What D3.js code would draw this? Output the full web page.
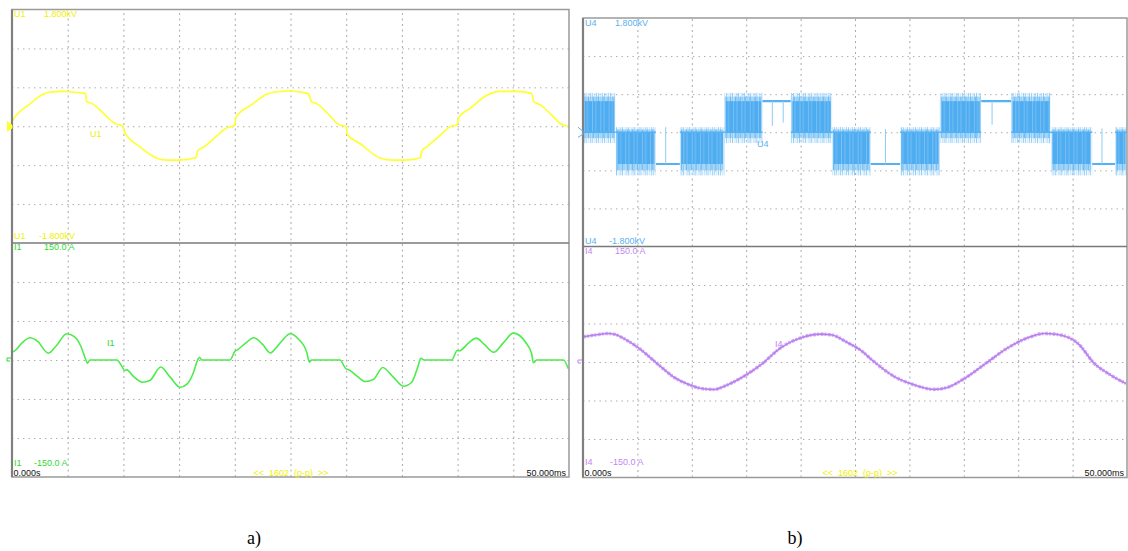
<!DOCTYPE html>
<html><head><meta charset="utf-8">
<script src="https://cdn.jsdelivr.net/npm/d3@7"></script>
<style>
body{margin:0;background:#fff}
svg{display:block}
text{font-family:"Liberation Sans",Arial,sans-serif}
</style>
</head><body>
<svg id="c" width="1128" height="551"></svg>
<script>
// ---------------- DATA ----------------
const timeTicks = [0,5,10,15,20,25,30,35,40,45,50];           // ms
const voltTicks = [-1800,-1200,-600,0,600,1200,1800];          // V
const currTicks = [-150,-100,-50,0,50,100,150];                // A

// a) U1 voltage (ms, V)
const u1Time = [0,0.3,1.5,2.8,3.5,4.5,5.0,6.6,6.7,7.2,8.2,9.2,9.96,10.1,11.5,13.0,13.9,15.0,16.5,16.7,17.2,18.2,19.2,20.0,20.1,21.5,22.86,23.5,24.3,24.95,26.6,26.9,27.35,28.4,29.44,29.98,30.1,31.24,33.03,34.23,35.13,36.63,36.83,37.23,38.3,39.47,39.92,40.13,41.11,42.61,43.81,45.31,46.65,46.86,47.4,48.4,49.35,49.94];
const u1Volt = [77,154,330,492,528,538,534,503,380,349,200,46,0,-92,-318,-492,-523,-523,-485,-369,-323,-180,-31,15,138,330,492,525,538,543,503,374,349,185,15,0,-128,-266,-488,-523,-523,-488,-369,-318,-160,5,15,143,272,477,538,538,503,374,334,180,26,0];

// a) I1 current (ms, A)
const i1Time = [0,0.27,0.9,1.62,2.3,3.26,4.0,4.9,5.6,6.2,6.65,6.76,7.0,9.4,9.9,10.1,10.3,10.9,11.7,12.4,13.35,14.2,15.1,15.7,16.3,16.65,16.83,17.03,19.57,20.02,20.23,21.0,21.7,22.5,23.2,23.46,24.2,24.96,25.7,26.46,26.69,26.9,29.44,29.98,30.19,31.0,31.7,32.44,33.28,34.23,35.13,35.88,36.47,36.69,36.99,39.47,39.97,40.15,41.0,41.68,42.4,43.23,44.1,45.0,46.1,46.65,46.8,47.1,49.5,49.94];
const i1Amp = [10,12,22,28.5,24,8.7,18.6,33.6,30,17,-0.6,-4,0,0,-9,-13.5,-12.6,-21,-28.5,-26,-9,-22,-35,-31,-15.6,-0.6,3.6,0,0,11.3,13,22,28.5,20,9,11.8,24,33.6,27,10,-2.8,0,0,-11.3,-12.2,-21,-27.6,-25,-9.6,-22,-33.6,-28.5,-7,2.3,0,0,12.2,11.8,22,28,20,10,22,34.4,22.8,8,-3.6,0,0,-11.3];

// b) U4 switched voltage: blocks of PWM switching or flat level (ms, V)
const u4Start = [0,3.0,6.7,8.9,13.0,16.5,19.1,22.9,26.45,29.15,32.8,36.6,39.35,43.0,46.8,48.9];
const u4End   = [3.0,6.7,8.9,13.0,16.5,19.1,22.9,26.45,29.15,32.8,36.6,39.35,43.0,46.8,48.9,50];
const u4Level = [490,-500,-500,-500,490,490,490,-500,-500,-500,490,490,490,-500,-500,-500];
const u4Mode  = ['pwm','pwm','flat','pwm','pwm','flat','pwm','pwm','flat','pwm','pwm','flat','pwm','pwm','flat','pwm'];
const u4SpikeTop    = [620,80,-500,80,620,490,620,80,-500,80,620,490,620,80,-500,80];
const u4SpikeBottom = [-170,-680,-500,-680,-170,490,-170,-680,-500,-680,-170,490,-170,-680,-500,-680];
// isolated spikes in flat parts (ms, V tip)
const u4LoneTime = [7.6,17.4,18.4,27.8,37.6,47.7];
const u4LoneTip  = [80,100,150,50,120,60];

// b) I4 current (ms, A)
const i4Time = [0,1.1,2.3,2.9,3.85,5.07,6.9,8.44,9.66,10.9,12.1,13.0,14.56,16.4,18.2,20.1,21.9,22.8,24.3,25.6,26.6,28.5,30.5,32.3,33.5,35,37,39,41,42.4,43.5,45.5,47,48.5,49.9];
const i4Amp  = [32.7,35,37,36,29.7,18.7,-3,-20.5,-29,-34.5,-35.7,-31.4,-20.5,-3,18.7,31.8,36.2,35.3,25.3,14.4,2.2,-18,-30,-35.5,-33,-22,-2,18,32,37,36,24,-2,-17,-28];

// ---------------- DRAW ----------------
const svg = d3.select('#c');
const defs = svg.append('defs');
function pattern(id, w, bars, bg) {
  const p = defs.append('pattern').attr('id',id).attr('patternUnits','userSpaceOnUse').attr('width',w).attr('height',10);
  if (bg) p.append('rect').attr('width',w).attr('height',10).attr('fill',bg);
  bars.forEach(b=>p.append('rect').attr('x',b[0]).attr('width',b[1]).attr('height',10).attr('fill',b[2]));
}
pattern('spk', 6.1, [[0,1,'#8ccaf7'],[2.4,0.8,'#b3dcfa'],[4.2,1,'#9dd1f8']]);
pattern('mid', 4.9, [[0,1.4,'#6cbcf4'],[2.1,1,'#8dcaf6'],[3.6,0.9,'#79c1f5']]);
pattern('den', 8.3, [[3.0,0.7,'#8ac8f6'],[6.2,0.5,'#9ed2f8']], '#4eacf1');

const panels = [
  {x0:12, x1:569, y0:9.5, ym:243, y1:477, top:{name:'U1', col:'#f0f000'}, bot:{name:'I1', col:'#2fd82f'},
   topLbl:[90,137], botLbl:[107,346], topTxtX:44, topNegX:39, botTxtX:44, botNegX:34, pp:291, tb:17, tnb:239, bb:249.5, bnb:465.5, zb:475.5},
  {x0:583, x1:1127, y0:18, ym:246.5, y1:477.5, top:{name:'U4', col:'#5ab0f0'}, bot:{name:'I4', col:'#c186f2'},
   topLbl:[757,147], botLbl:[775,347], topTxtX:615, topNegX:609, botTxtX:615, botNegX:610, pp:860, tb:26, tnb:244, bb:253.5, bnb:465, zb:476}
];

panels.forEach((P, pi) => {
  const g = svg.append('g');
  const x = d3.scaleLinear().domain([0,50]).range([P.x0, P.x1]);
  const yT = d3.scaleLinear().domain([-1800,1800]).range([P.ym, P.y0]);
  const yB = d3.scaleLinear().domain([-150,150]).range([P.y1, P.ym]);
  const W = P.x1 - P.x0;
  // vertical grid
  g.append('g').attr('transform',`translate(0,${P.y1})`)
    .call(d3.axisBottom(x).tickValues(timeTicks.slice(1,-1)).tickSize(-(P.y1-P.y0)).tickFormat(''))
    .call(s=>{s.select('.domain').remove(); s.selectAll('line').attr('stroke','#a9a9a9').attr('stroke-dasharray','2,3.5');});
  // horizontal grids
  g.append('g').attr('transform',`translate(${P.x0},0)`)
    .call(d3.axisLeft(yT).tickValues(voltTicks.slice(1,-1)).tickSize(-W).tickFormat(''))
    .call(s=>{s.select('.domain').remove(); s.selectAll('line').attr('stroke','#a9a9a9').attr('stroke-dasharray','1.4,4.1');});
  g.append('g').attr('transform',`translate(${P.x0},0)`)
    .call(d3.axisLeft(yB).tickValues(currTicks.slice(1,-1)).tickSize(-W).tickFormat(''))
    .call(s=>{s.select('.domain').remove(); s.selectAll('line').attr('stroke','#a9a9a9').attr('stroke-dasharray','1.4,4.1');});

  const clipId = 'clip'+pi;
  defs.append('clipPath').attr('id',clipId).append('rect').attr('x',P.x0).attr('y',P.y0).attr('width',W).attr('height',P.y1-P.y0);
  const tr = g.append('g').attr('clip-path',`url(#${clipId})`);

  if (pi === 0) {
    const l1 = d3.line().x(d=>x(d[0])).y(d=>yT(d[1])).curve(d3.curveMonotoneX);
    tr.append('path').attr('d', l1(d3.zip(u1Time,u1Volt))).attr('fill','none').attr('stroke','#ffff2a').attr('stroke-width',1.6);
    const l2 = d3.line().x(d=>x(d[0])).y(d=>yB(d[1])).curve(d3.curveMonotoneX);
    tr.append('path').attr('d', l2(d3.zip(i1Time,i1Amp))).attr('fill','none').attr('stroke','#4cec4c').attr('stroke-width',1.6);
  } else {
    // U4
    u4Start.forEach((s,i)=>{
      const e = u4End[i];
      if (u4Mode[i]==='pwm') {
        const top = u4SpikeTop[i], bot = u4SpikeBottom[i];
        tr.append('rect').attr('x',x(s)).attr('width',x(e)-x(s))
          .attr('y',yT(top)).attr('height',yT(bot)-yT(top)).attr('fill','url(#spk)');
        const mt = top - (top - Math.max(u4Level[i],0))*0.45, mb = bot + (Math.min(u4Level[i],0) - bot)*0.45;
        tr.append('rect').attr('x',x(s)+0.8).attr('width',x(e)-x(s)-1.6)
          .attr('y',yT(mt)).attr('height',yT(mb)-yT(mt)).attr('fill','url(#mid)');
        const a = Math.max(u4Level[i],0), b = Math.min(u4Level[i],0);
        tr.append('rect').attr('x',x(s)+1.5).attr('width',x(e)-x(s)-3)
          .attr('y',yT(a)).attr('height',yT(b)-yT(a)).attr('fill','url(#den)');
        tr.append('line').attr('x1',x(s)).attr('x2',x(e)).attr('y1',yT(0)).attr('y2',yT(0)).attr('stroke','#55b1f2').attr('stroke-width',1.6);
      } else {
        tr.append('line').attr('x1',x(s)).attr('x2',x(e)).attr('y1',yT(u4Level[i])).attr('y2',yT(u4Level[i])).attr('stroke','#55b1f2').attr('stroke-width',2.2);
      }
    });
    u4LoneTime.forEach((t,i)=>{
      const bi = u4Start.findIndex((s,k)=> t>=s && t<u4End[k]);
      tr.append('line').attr('x1',x(t)).attr('x2',x(t)).attr('y1',yT(u4Level[bi])).attr('y2',yT(u4LoneTip[i])).attr('stroke','#8ecbf6').attr('stroke-width',1);
    });
    // I4
    const l4 = d3.line().x(d=>x(d[0])).y(d=>yB(d[1])).curve(d3.curveMonotoneX);
    const dd = l4(d3.zip(i4Time,i4Amp));
    tr.append('path').attr('d',dd).attr('fill','none').attr('stroke','#d6b3f7').attr('stroke-width',3.6).attr('stroke-dasharray','3,1,2,1.5');
    tr.append('path').attr('d',dd).attr('fill','none').attr('stroke','#b67fec').attr('stroke-width',1.6);
  }

  // frame
  g.append('rect').attr('x',P.x0).attr('y',P.y0).attr('width',W).attr('height',P.y1-P.y0).attr('fill','none').attr('stroke','#9a9a9a').attr('stroke-width',1.5);
  g.append('line').attr('x1',P.x0).attr('x2',P.x0).attr('y1',P.y0).attr('y2',P.y1).attr('stroke','#808080').attr('stroke-width',2.2);
  g.append('line').attr('x1',P.x0).attr('x2',P.x1).attr('y1',P.ym).attr('y2',P.ym).attr('stroke','#7a7a7a').attr('stroke-width',1.6);

  // texts
  const fs = 9;
  const txt = (xx,yy,s,c,anchor)=> g.append('text').attr('x',xx).attr('y',yy).attr('font-size',fs).attr('fill',c).attr('text-anchor',anchor||'start').style('white-space','pre').text(s);
  const tc = P.top.col, bc = P.bot.col;
  txt(P.x0+2, P.tb, P.top.name, tc); txt(P.topTxtX, P.tb, '1.800kV', tc);
  txt(P.x0+2, P.tnb, P.top.name, tc); txt(P.topNegX, P.tnb, '-1.800kV', tc);
  txt(P.x0+2, P.bb, P.bot.name, bc); txt(P.botTxtX, P.bb, '150.0 A', bc);
  txt(P.x0+2, P.bnb, P.bot.name, bc); txt(P.botNegX, P.bnb, '-150.0 A', bc);
  txt(P.x0+1.5, P.zb, '0.000s', '#111');
  txt(P.x1-3, P.zb, '50.000ms', '#111', 'end');
  txt(P.pp, P.zb, '<<  1602  (p-p)  >>', '#f0f000', 'middle');
  txt(P.topLbl[0], P.topLbl[1], P.top.name, tc);
  txt(P.botLbl[0], P.botLbl[1], P.bot.name, bc);

  // ground markers
  const gx = P.x0 - 5;
  g.append('path').attr('d',`M${gx},${yT(0)-5} L${gx+5},${yT(0)-1} L${gx+5},${yT(0)+2} L${gx},${yT(0)+5}`)
    .attr('fill', pi===0 ? '#ffff2a' : 'none').attr('stroke', pi===0 ? '#ffff2a' : '#5ab0f0').attr('stroke-width',1);
  g.append('path').attr('d',`M${gx+4},${yB(0)-2} L${gx},${yB(0)-2} L${gx},${yB(0)+1} L${gx+3},${yB(0)+1}`)
    .attr('fill','none').attr('stroke', bc).attr('stroke-width',1);
});

svg.append('text').attr('x',254).attr('y',544).attr('text-anchor','middle').attr('font-size',18).attr('fill','#000')
  .style('font-family','"Liberation Serif","Times New Roman",serif').text('a)');
svg.append('text').attr('x',795).attr('y',544).attr('text-anchor','middle').attr('font-size',18).attr('fill','#000')
  .style('font-family','"Liberation Serif","Times New Roman",serif').text('b)');
</script>
</body></html>
